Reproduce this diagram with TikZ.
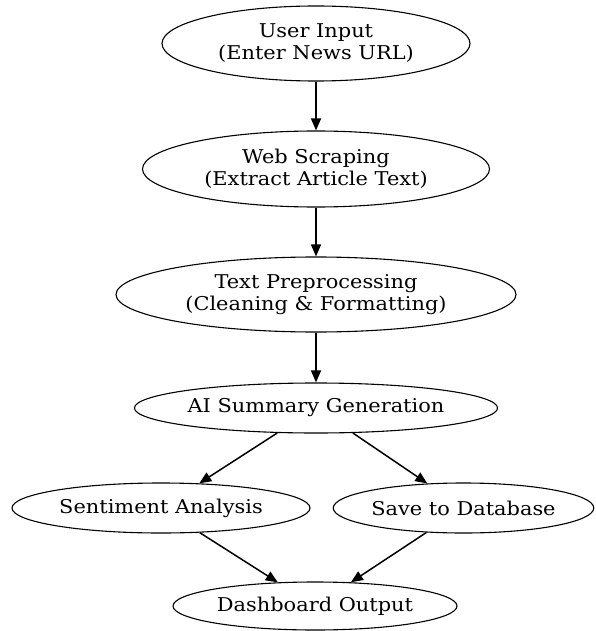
\documentclass[tikz,border=0pt]{standalone}
\usepackage{fontspec}
\setmainfont{DejaVu Serif}[FakeStretch=1.1]
\usetikzlibrary{shapes.geometric,arrows.meta}
\begin{document}
\begin{tikzpicture}[x=1pt,y=-1pt,
  stage/.style={draw=black,line width=1.1pt,ellipse,inner sep=0pt,align=center,
    font=\fontsize{19}{22}\selectfont},
  flow/.style={draw=black,line width=1.5pt,-{Triangle[length=12pt,width=10pt]}}]
\useasboundingbox (0,0) rectangle (595,631);
\node[stage,minimum width=308pt,minimum height=75pt] (n1) at (316,43.5) {User Input\\(Enter News URL)};
\node[stage,minimum width=347pt,minimum height=76pt] (n2) at (316,169) {Web Scraping\\(Extract Article Text)};
\node[stage,minimum width=400pt,minimum height=75pt] (n3) at (316,294.5) {Text Preprocessing\\(Cleaning \& Formatting)};
\node[stage,minimum width=362pt,minimum height=50pt] (n4) at (316,408) {AI Summary Generation};
\node[stage,minimum width=298pt,minimum height=50pt] (n5) at (161,508) {Sentiment Analysis};
\node[stage,minimum width=260pt,minimum height=50pt] (n6) at (463.5,508) {Save to Database};
\node[stage,minimum width=284pt,minimum height=48pt] (n7) at (315,606) {Dashboard Output};
\draw[flow] (n1) -- (n2);
\draw[flow] (n2) -- (n3);
\draw[flow] (n3) -- (n4);
\draw[flow] (n4) -- (n5);
\draw[flow] (n4) -- (n6);
\draw[flow] (n5) -- (n7);
\draw[flow] (n6) -- (n7);
\end{tikzpicture}
\end{document}
